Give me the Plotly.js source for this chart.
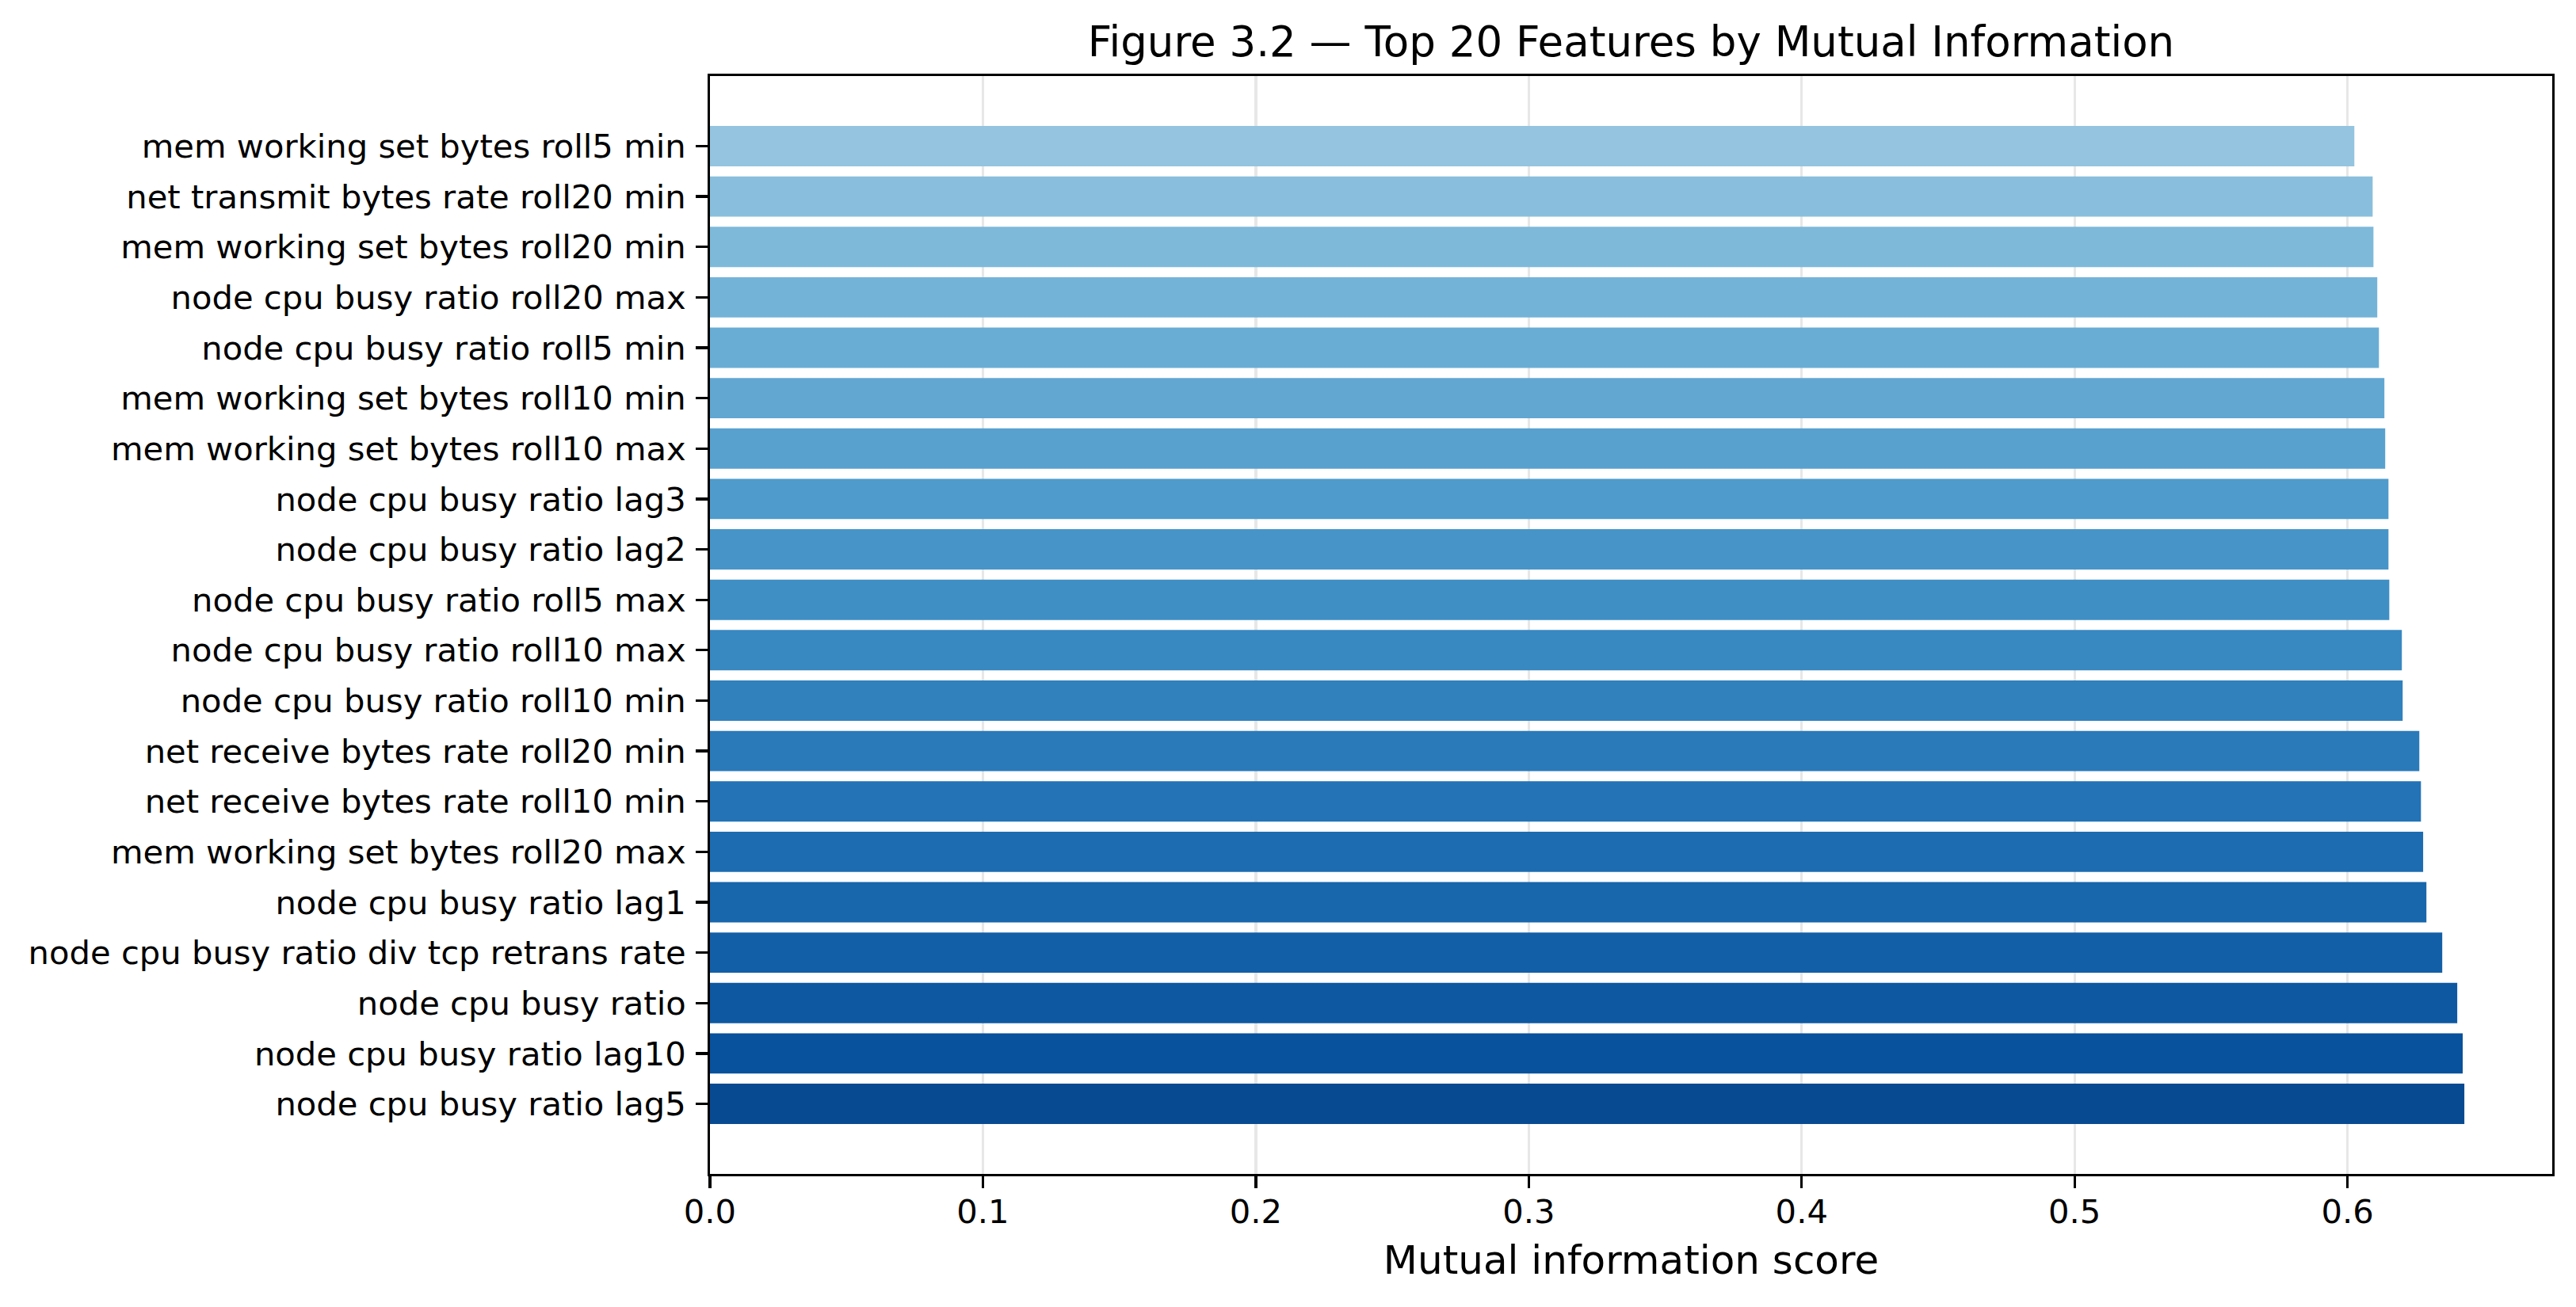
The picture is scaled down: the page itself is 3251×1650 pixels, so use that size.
<!DOCTYPE html>
<html>
<head>
<meta charset="utf-8">
<script src="https://cdn.plot.ly/plotly-3.0.1.min.js"></script>
<style>html,body{margin:0;padding:0;background:#fff;}#chart{width:3251px;height:1650px;}</style>
</head>
<body>
<div id="chart"></div>
<script>
// Features listed bottom to top
const features = [
  "node cpu busy ratio lag5",
  "node cpu busy ratio lag10",
  "node cpu busy ratio",
  "node cpu busy ratio div tcp retrans rate",
  "node cpu busy ratio lag1",
  "mem working set bytes roll20 max",
  "net receive bytes rate roll10 min",
  "net receive bytes rate roll20 min",
  "node cpu busy ratio roll10 min",
  "node cpu busy ratio roll10 max",
  "node cpu busy ratio roll5 max",
  "node cpu busy ratio lag2",
  "node cpu busy ratio lag3",
  "mem working set bytes roll10 max",
  "mem working set bytes roll10 min",
  "node cpu busy ratio roll5 min",
  "node cpu busy ratio roll20 max",
  "mem working set bytes roll20 min",
  "net transmit bytes rate roll20 min",
  "mem working set bytes roll5 min"
];
const miScores = [
  0.6428, 0.6422, 0.6402, 0.6347, 0.6289,
  0.6277, 0.6269, 0.6263, 0.6202, 0.6199,
  0.6153, 0.6150, 0.6150, 0.6138, 0.6135,
  0.6115, 0.6109, 0.6095, 0.6092, 0.6025
];
const xTicks = [0.0, 0.1, 0.2, 0.3, 0.4, 0.5, 0.6];

// matplotlib "Blues" colormap anchors
const bluesStops = [
  [247,251,255],[222,235,247],[198,219,239],[158,202,225],[107,174,214],
  [66,146,198],[33,113,181],[8,81,156],[8,48,107]
];
function blues(t) {
  const pos = t * (bluesStops.length - 1);
  const i = Math.min(Math.floor(pos), bluesStops.length - 2);
  const f = pos - i;
  const a = bluesStops[i], b = bluesStops[i + 1];
  const c = a.map((v, k) => Math.round(v + (b[k] - v) * f));
  return `rgb(${c[0]},${c[1]},${c[2]})`;
}
const n = features.length;
const barColors = features.map((_, i) => blues(0.9 - 0.5 * i / (n - 1)));

const FONT = "DejaVu Sans, Liberation Sans, sans-serif";
const lw = 3.3;

const trace = {
  type: 'bar',
  orientation: 'h',
  y: features,
  x: miScores,
  width: 0.8,
  marker: { color: barColors, line: { width: 0 } },
  hoverinfo: 'x+y'
};

const layout = {
  width: 3251,
  height: 1650,
  paper_bgcolor: '#ffffff',
  plot_bgcolor: '#ffffff',
  margin: { l: 896, r: 30, t: 96, b: 168, pad: 0 },
  showlegend: false,
  font: { family: FONT, color: '#000', size: 41.7 },
  title: {
    text: 'Figure 3.2 — Top 20 Features by Mutual Information',
    font: { family: FONT, size: 53, color: '#000' },
    x: 0.5, xref: 'paper', xanchor: 'center',
    y: 1 - 52 / 1650, yref: 'container', yanchor: 'middle'
  },
  xaxis: {
    range: [0, 0.675],
    tickvals: xTicks,
    tickformat: '.1f',
    ticks: 'outside', ticklen: 14.6, tickwidth: lw, tickcolor: '#000',
    ticklabelstandoff: -6,
    tickfont: { family: FONT, size: 41.7, color: '#000' },
    showline: true, linecolor: '#000', linewidth: lw, mirror: true,
    showgrid: true, gridcolor: 'rgba(176,176,176,0.3)', gridwidth: lw,
    zeroline: false,
    layer: 'above traces',
    title: {
      text: 'Mutual information score',
      font: { family: FONT, size: 50, color: '#000' },
      standoff: 21
    },
    automargin: false
  },
  yaxis: {
    type: 'category',
    range: [-1.39, 20.39],
    ticks: 'outside', ticklen: 14.6, tickwidth: lw, tickcolor: '#000',
    ticklabelstandoff: 4,
    tickfont: { family: FONT, size: 41.7, color: '#000' },
    showline: true, linecolor: '#000', linewidth: lw, mirror: true,
    showgrid: false, zeroline: false,
    automargin: false
  },
  bargap: 0.2
};

Plotly.newPlot('chart', [trace], layout, { staticPlot: true, displayModeBar: false });
</script>
</body>
</html>
